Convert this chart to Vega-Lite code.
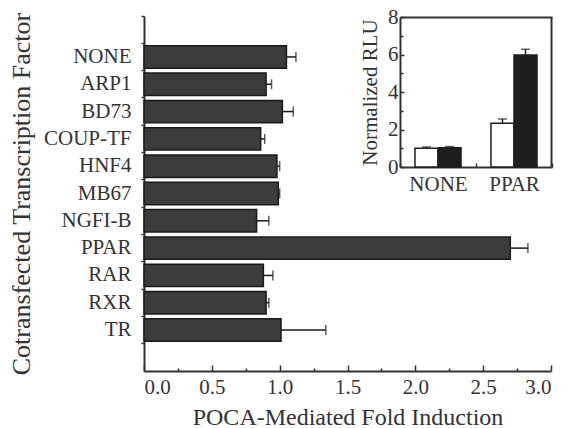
{
  "$schema": "https://vega.github.io/schema/vega-lite/v6.json",
  "autosize": {"type": "none"},
  "padding": {"left": 144, "top": 16, "right": 18, "bottom": 57},
  "width": 407, "height": 355,
  "background": "white",
  "config": {
    "font": "Liberation Serif",
    "view": {"stroke": null},
    "axis": {"labelFontSize": 21, "titleFontSize": 22, "titleFontWeight": "normal", "labelColor": "#333", "titleColor": "#333", "domainColor": "#333", "tickColor": "#333", "domainWidth": 2, "tickWidth": 1.5, "grid": false, "labelFont": "Liberation Serif", "titleFont": "Liberation Serif"}
  },
  "datasets": {
    "main": [
      {"tf": "NONE", "v": 1.05, "e": 1.12},
      {"tf": "ARP1", "v": 0.90, "e": 0.94},
      {"tf": "BD73", "v": 1.02, "e": 1.10},
      {"tf": "COUP-TF", "v": 0.86, "e": 0.89},
      {"tf": "HNF4", "v": 0.98, "e": 1.00},
      {"tf": "MB67", "v": 0.99, "e": 1.00},
      {"tf": "NGFI-B", "v": 0.83, "e": 0.92},
      {"tf": "PPAR", "v": 2.70, "e": 2.83},
      {"tf": "RAR", "v": 0.88, "e": 0.95},
      {"tf": "RXR", "v": 0.90, "e": 0.92},
      {"tf": "TR", "v": 1.01, "e": 1.34}
    ],
    "inset": [
      {"g": "NONE", "s": "control", "v": 1.0, "e": 1.07},
      {"g": "NONE", "s": "POCA", "v": 1.03, "e": 1.09},
      {"g": "PPAR", "s": "control", "v": 2.33, "e": 2.56},
      {"g": "PPAR", "s": "POCA", "v": 5.97, "e": 6.28}
    ]
  },
  "resolve": {"scale": {"x": "independent", "y": "independent"}, "axis": {"x": "independent", "y": "independent"}},
  "layer": [
    {
      "data": {"name": "main"},
      "resolve": {"axis": {"x": "independent", "y": "independent"}},
      "layer": [
        {
          "mark": {"type": "bar", "fill": "#3c3c3c", "stroke": "#1a1a1a", "strokeWidth": 1.5, "height": {"band": 0.82}},
          "encoding": {
            "y": {"field": "tf", "type": "nominal", "sort": null,
              "scale": {"domain": [" ", "NONE", "ARP1", "BD73", "COUP-TF", "HNF4", "MB67", "NGFI-B", "PPAR", "RAR", "RXR", "TR", "  "], "paddingInner": 0, "paddingOuter": 0},
              "axis": {"orient": "left", "title": "Cotransfected Transcription Factor", "titleFontSize": 26, "titlePadding": 9, "ticks": false, "labelPadding": 13}},
            "x": {"field": "v", "type": "quantitative", "scale": {"domain": [0, 3], "nice": false, "zero": true},
              "axis": {"orient": "bottom", "title": "POCA-Mediated Fold Induction", "titleFontSize": 24, "values": [0, 0.5, 1, 1.5, 2, 2.5, 3], "format": ".1f", "tickSize": -6, "labelPadding": 11, "titlePadding": 8}}
          }
        },
        {
          "mark": {"type": "rule", "color": "#1a1a1a", "strokeWidth": 1.5},
          "encoding": {
            "y": {"field": "tf", "type": "nominal", "sort": null,
              "axis": {"orient": "left", "title": null, "labels": false, "domain": false, "bandPosition": 0, "tickSize": 3}},
            "x": {"field": "v", "type": "quantitative",
              "axis": {"orient": "bottom", "title": null, "values": [0.25, 0.75, 1.25, 1.75, 2.25, 2.75], "labels": false, "domain": false, "tickSize": -3}},
            "x2": {"field": "e"}
          }
        },
        {
          "mark": {"type": "tick", "color": "#1a1a1a", "thickness": 1.5, "size": 10},
          "encoding": {
            "y": {"field": "tf", "type": "nominal", "sort": null, "axis": null},
            "x": {"field": "e", "type": "quantitative", "axis": null}
          }
        }
      ]
    },
    {
      "data": {"name": "inset"},
      "resolve": {"axis": {"x": "independent", "y": "independent"}},
      "layer": [
        {
          "mark": {"type": "bar", "stroke": "#1e1e1e", "strokeWidth": 1.5},
          "encoding": {
            "x": {"field": "g", "type": "nominal", "scale": {"range": [256, 408], "paddingInner": 0, "paddingOuter": 0},
              "axis": {"orient": "bottom", "offset": -204, "title": null, "labelAngle": 0, "tickBand": "extent", "tickSize": -4, "labelPadding": 10}},
            "xOffset": {"field": "s", "type": "nominal", "scale": {"domain": ["control", "POCA"], "paddingInner": 0, "paddingOuter": 0.65}},
            "y": {"field": "v", "type": "quantitative", "scale": {"domain": [0, 8], "nice": false, "range": [151, 1]},
              "axis": {"orient": "left", "offset": -256, "title": "Normalized RLU", "titleFontSize": 21, "values": [0, 2, 4, 6, 8], "tickSize": -4, "labelPadding": 6, "titlePadding": 7}},
            "fill": {"field": "s", "type": "nominal", "scale": {"domain": ["control", "POCA"], "range": ["white", "#1e1e1e"]}, "legend": null}
          }
        },
        {
          "mark": {"type": "rule", "color": "#1e1e1e", "strokeWidth": 1.5},
          "encoding": {
            "x": {"field": "g", "type": "nominal",
              "axis": {"orient": "top", "offset": -1, "title": null, "labels": false, "ticks": false}},
            "xOffset": {"field": "s", "type": "nominal"},
            "y": {"field": "v", "type": "quantitative",
              "axis": {"orient": "right", "offset": 0, "title": null, "labels": false, "ticks": false}},
            "y2": {"field": "e"}
          }
        },
        {
          "mark": {"type": "tick", "color": "#1e1e1e", "thickness": 1.5, "size": 9},
          "encoding": {
            "x": {"field": "g", "type": "nominal", "axis": null},
            "xOffset": {"field": "s", "type": "nominal"},
            "y": {"field": "e", "type": "quantitative",
              "axis": {"orient": "left", "offset": -256, "title": null, "values": [1, 3, 5, 7], "labels": false, "domain": false, "tickSize": -3}}
          }
        }
      ]
    }
  ]
}
